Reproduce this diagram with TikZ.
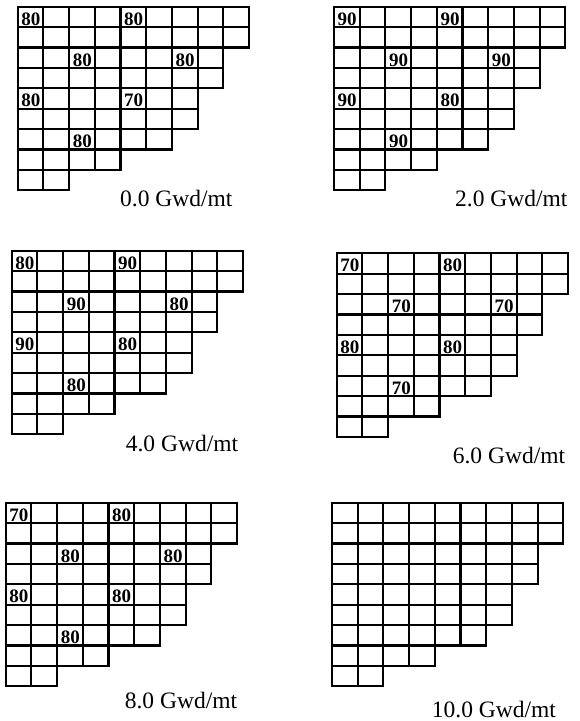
\documentclass[tikz,border=0pt]{standalone}
\usepackage{fontspec}
\setmainfont{Liberation Serif}
\tikzset{
  cellbox/.style={draw, line width=2.1pt},
  val/.style={font=\bfseries\fontsize{19}{19}\selectfont, anchor=base west, inner sep=0pt},
  captext/.style={font=\fontsize{23.5}{23.5}\selectfont, anchor=base, inner sep=0pt}
}
\newcommand{\cw}{25.7}
\newcommand{\rh}{20.4}
% #1 x0, #2 y0, #3 name, #4 list row/col/value
\newcommand{\coregrid}[4]{%
  \begin{scope}[shift={(#1,#2)}]
    \foreach \r/\w in {0/9,1/9,2/8,3/8,4/7,5/7,6/6,7/4,8/2} {
      \foreach \c in {1,...,\w} {
        \draw[cellbox] ({(\c-1)*\cw},{\r*\rh}) rectangle ++(\cw,\rh);
      }
    }
    \foreach \rr/\cc/\v [count=\i] in {#4} {
      \node[val] (#3-\i) at ({\cc*\cw+3.5},{\rr*\rh+18.5}) {\v};
    }
  \end{scope}}
\begin{document}
\begin{tikzpicture}[x=1pt,y=-1pt]
  \useasboundingbox (0,0) rectangle (579,721);
  \coregrid{17.7}{6.7}{ga}{0/0/80,0/4/80,2/2/80,2/6/80,4/0/80,4/4/70,6/2/80}
  \coregrid{334}{6.7}{gb}{0/0/90,0/4/90,2/2/90,2/6/90,4/0/90,4/4/80,6/2/90}
  \coregrid{11.7}{250.7}{gc}{0/0/80,0/4/90,2/2/90,2/6/80,4/0/90,4/4/80,6/2/80}
  \coregrid{336.7}{253.3}{gd}{0/0/70,0/4/80,2/2/70,2/6/70,4/0/80,4/4/80,6/2/70}
  \coregrid{5.7}{502.7}{ge}{0/0/70,0/4/80,2/2/80,2/6/80,4/0/80,4/4/80,6/2/80}
  \begin{scope}[shift={(332,502.7)}]
    \foreach \r/\w in {0/9,1/9,2/8,3/8,4/7,5/7,6/6,7/4,8/2} {
      \foreach \c in {1,...,\w} {
        \draw[cellbox] ({(\c-1)*\cw},{\r*\rh}) rectangle ++(\cw,\rh);
      }
    }
  \end{scope}
  \node[captext] (ca) at (176.3,206.7) {0.0 Gwd/mt};
  \node[captext] (cb) at (511.3,206.7) {2.0 Gwd/mt};
  \node[captext] (cc) at (182,451.5) {4.0 Gwd/mt};
  \node[captext] (cd) at (509,463) {6.0 Gwd/mt};
  \node[captext] (ce) at (181,708) {8.0 Gwd/mt};
  \node[captext] (cf) at (494,717) {10.0 Gwd/mt};
\end{tikzpicture}
\end{document}
